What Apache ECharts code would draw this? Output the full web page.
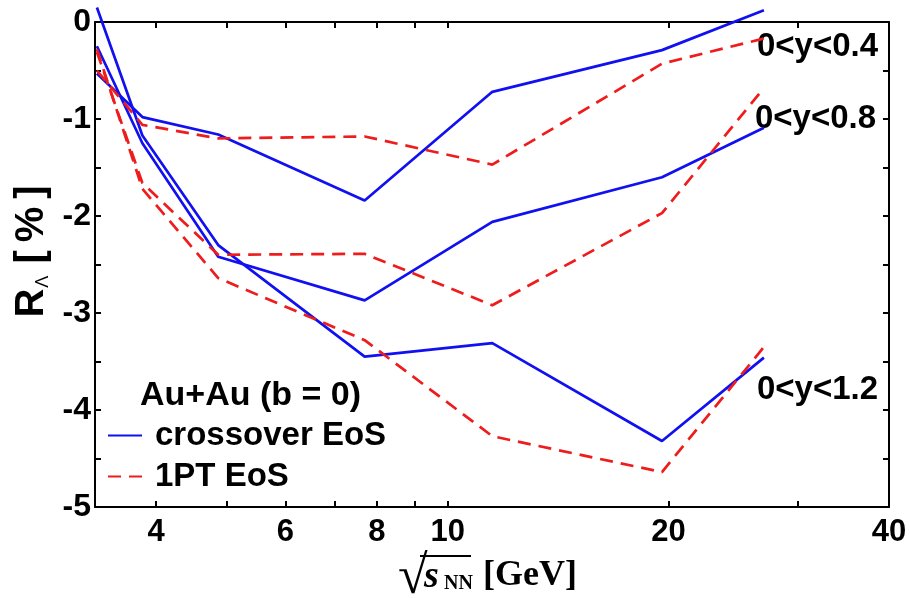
<!DOCTYPE html>
<html><head><meta charset="utf-8">
<script src="https://cdn.jsdelivr.net/npm/echarts@6/dist/echarts.min.js"></script>
<style>html,body{margin:0;padding:0;background:#fff}#c{width:910px;height:598px}</style>
</head><body><div id="c"></div>
<script>
// sqrt(s_NN) energies [GeV]
const energies = [3.32, 3.83, 4.86, 7.7, 11.5, 19.6, 27];
// R_Lambda [%] — crossover EoS
const crossY04 = [-0.53, -0.98, -1.16, -1.84, -0.72, -0.29, 0.12];
const crossY08 = [-0.25, -1.25, -2.42, -2.87, -2.06, -1.60, -1.09];
const crossY12 = [0.15, -1.17, -2.30, -3.45, -3.31, -4.32, -3.46];
// R_Lambda [%] — 1PT EoS
const ptY04 = [-0.50, -1.06, -1.20, -1.18, -1.47, -0.43, -0.17];
const ptY08 = [-0.31, -1.66, -2.40, -2.39, -2.92, -1.97, -0.68];
const ptY12 = [-0.28, -1.72, -2.64, -3.28, -4.27, -4.64, -3.35];
const xTickValues = [4, 5, 6, 7, 8, 9, 10, 20, 30, 40];
const xLabelValues = [4, 6, 8, 10, 20, 40];
const rangeLabels = ['0<y<0.4', '0<y<0.8', '0<y<1.2'];
const systemLabel = 'Au+Au (b = 0)';
const seriesNames = ['crossover EoS', '1PT EoS'];

const SANS = '"Liberation Sans", Arial, sans-serif';
const SERIF = '"Liberation Serif", "Times New Roman", serif';
const BLUE = '#1010f0';
const RED = '#ee1c1c';

const pairs = ys => energies.map((x, i) => [x, ys[i]]);

const chart = echarts.init(document.getElementById('c'), null, {renderer: 'canvas'});

const mkSeries = (name, ys, color, dashed) => ({
  type: 'line', name: name, data: pairs(ys), symbol: 'none', clip: false,
  xAxisIndex: 0, yAxisIndex: 0,
  lineStyle: {color: color, width: 2.7, type: dashed ? [13, 8] : 'solid'},
  itemStyle: {color: color},
  emphasis: {disabled: true}, animation: false
});

const axisLine = {show: true, onZero: false, lineStyle: {color: '#000', width: 2}};
const tickStyle = {color: '#000', width: 2};

chart.setOption({
  animation: false,
  grid: {left: 95, right: 21, top: 22, bottom: 91, containLabel: false, outerBoundsMode: 'none'},
  xAxis: [{
    type: 'log', logBase: 10, min: 3.3, max: 40, position: 'bottom',
    axisLine: axisLine,
    splitLine: {show: false},
    axisTick: {show: true, inside: true, length: 6, lineStyle: tickStyle, customValues: xTickValues},
    axisLabel: {show: true, customValues: xLabelValues, margin: 10, color: '#000',
      fontFamily: SANS, fontWeight: 'bold', fontSize: 31, formatter: v => String(Math.round(v))}
  }, {
    type: 'log', logBase: 10, min: 3.3, max: 40, position: 'top',
    axisLine: axisLine,
    splitLine: {show: false},
    axisTick: {show: true, inside: true, length: 6, lineStyle: tickStyle, customValues: xTickValues},
    axisLabel: {show: false}
  }],
  yAxis: [{
    type: 'value', min: -5, max: 0, interval: 0.5, position: 'left',
    axisLine: axisLine, splitLine: {show: false},
    axisTick: {show: true, inside: true, length: 6, lineStyle: tickStyle},
    axisLabel: {margin: 4, color: '#000', fontFamily: SANS, fontWeight: 'bold', fontSize: 32,
      formatter: v => (Math.abs(v - Math.round(v)) < 1e-6 ? String(Math.round(v)) : '')},
    name: '{R|R}{L|\u039B}{P| [\u2009%\u2009]}', nameLocation: 'middle', nameRotate: 90, nameGap: 42,
    nameTextStyle: {
      padding: [0, 0, 0, 26],
      rich: {
        R: {fontFamily: SANS, fontWeight: 'bold', fontSize: 40, color: '#000', verticalAlign: 'bottom'},
        L: {fontFamily: SANS, fontSize: 18, color: '#000', verticalAlign: 'bottom', padding: [0, 1, 0, 1]},
        P: {fontFamily: SANS, fontWeight: 'bold', fontSize: 40, color: '#000', verticalAlign: 'bottom'}
      }
    }
  }, {
    type: 'value', min: -5, max: 0, interval: 0.5, position: 'right',
    axisLine: axisLine, splitLine: {show: false},
    axisTick: {show: true, inside: true, length: 6, lineStyle: tickStyle},
    axisLabel: {show: false}
  }],
  legend: {
    left: 102, top: 414, orient: 'vertical', itemWidth: 34, itemHeight: 14, itemGap: 8,
    selectedMode: false, data: seriesNames,
    itemStyle: {opacity: 0},
    textStyle: {fontFamily: SANS, fontWeight: 'bold', fontSize: 33, color: '#000', padding: [0, 0, 0, 8]}
  },
  series: [
    mkSeries(seriesNames[0], crossY04, BLUE, false),
    mkSeries(seriesNames[0], crossY08, BLUE, false),
    mkSeries(seriesNames[0], crossY12, BLUE, false),
    mkSeries(seriesNames[1], ptY04, RED, true),
    mkSeries(seriesNames[1], ptY08, RED, true),
    mkSeries(seriesNames[1], ptY12, RED, true)
  ],
  graphic: [
    {type: 'text', x: 140, y: 396, style: {text: systemLabel, font: 'bold 34px ' + SANS, fill: '#000', align: 'left', verticalAlign: 'middle'}},
    {type: 'text', x: 757, y: 47, style: {text: rangeLabels[0], font: 'bold 33px ' + SANS, fill: '#000', align: 'left', verticalAlign: 'middle'}},
    {type: 'text', x: 755, y: 119, style: {text: rangeLabels[1], font: 'bold 33px ' + SANS, fill: '#000', align: 'left', verticalAlign: 'middle'}},
    {type: 'text', x: 757, y: 390, style: {text: rangeLabels[2], font: 'bold 33px ' + SANS, fill: '#000', align: 'left', verticalAlign: 'middle'}},
    {type: 'text', x: 398, y: 579, style: {text: '\u221A', font: 'bold 54px ' + SERIF, fill: '#000', align: 'left', verticalAlign: 'middle'}},
    {type: 'line', shape: {x1: 420, y1: 556, x2: 471, y2: 556}, style: {stroke: '#000', lineWidth: 2}},
    {type: 'text', x: 424, y: 577, style: {text: 's', font: 'italic bold 38px ' + SERIF, fill: '#000', align: 'left', verticalAlign: 'middle'}},
    {type: 'text', x: 444, y: 584, style: {text: 'NN', font: 'bold 20px ' + SERIF, fill: '#000', align: 'left', verticalAlign: 'middle'}},
    {type: 'text', x: 483, y: 576, style: {text: '[GeV]', font: 'bold 36px ' + SERIF, fill: '#000', align: 'left', verticalAlign: 'middle'}}
  ]
});
</script>
</body></html>
